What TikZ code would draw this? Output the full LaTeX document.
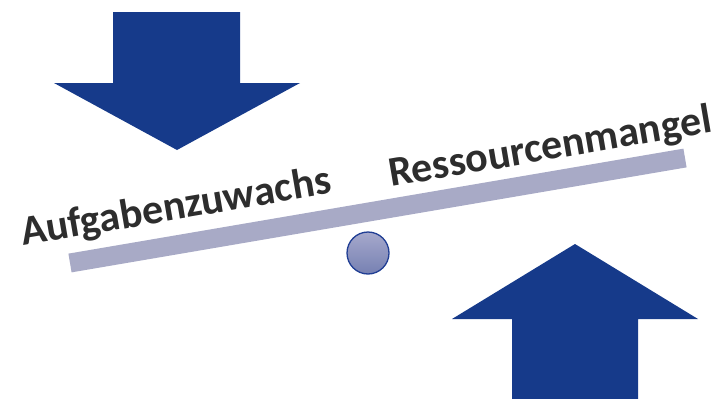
\documentclass[tikz,border=0pt]{standalone}
\usepackage{fontspec}
\setmainfont{Carlito}
\definecolor{arrowblue}{RGB}{22,58,138}
\definecolor{barcol}{RGB}{168,170,198}
\definecolor{txtcol}{RGB}{45,45,45}
\definecolor{ballborder}{RGB}{32,62,148}
\definecolor{balltop}{RGB}{166,169,204}
\definecolor{ballbot}{RGB}{118,128,178}
\tikzset{
  bigarrow/.style={fill=arrowblue, draw=none},
  label/.style={text=txtcol, font=\fontsize{42}{42}\selectfont\bfseries, inner sep=0pt, anchor=base west, rotate=9.7},
}
\begin{document}
\begin{tikzpicture}[x=1pt,y=-1pt]
\useasboundingbox (0,0) rectangle (726,399);
% down arrow
\fill[bigarrow] (113,12) -- (240,12) -- (240,83) -- (300,83) -- (177,150) -- (54,83) -- (113,83) -- cycle;
% up arrow
\fill[bigarrow] (512,399) -- (638,399) -- (638,319) -- (698,319) -- (575,244) -- (452,319) -- (512,319) -- cycle;
% bar
\coordinate (barL) at (70,263);
\coordinate (barR) at (685,158);
\draw[barcol, line width=19pt] (barL) -- (barR);
% pivot ball
\node[circle, minimum size=42pt, inner sep=0pt, draw=ballborder, line width=1.3pt, top color=balltop, bottom color=ballbot] (ball) at (368,253) {};
% labels
\node[label] (aufg) at (23,246) {Aufgabenzuwachs};
\node[label] (ress) at (391,187) {Ressourcenmangel};
\end{tikzpicture}
\end{document}
